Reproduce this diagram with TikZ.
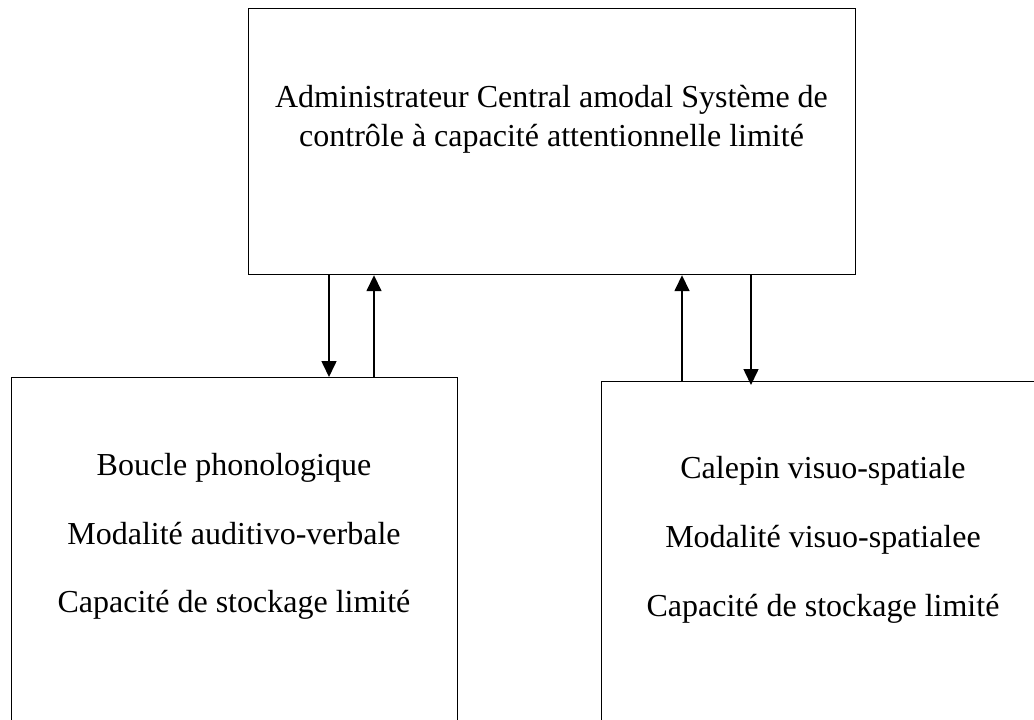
\documentclass[tikz,border=0pt]{standalone}
\usepackage{fontspec}
\setmainfont{Liberation Serif}
\usetikzlibrary{arrows.meta,calc}
\begin{document}
\begin{tikzpicture}[x=1pt,y=-1pt,
  boxst/.style={draw=black,line width=1.2pt,rectangle,inner sep=0pt,anchor=north west},
  txt/.style={anchor=base,inner sep=0pt,font=\fontsize{32}{40}\selectfont},
  arr/.style={line width=1.6pt,-{Triangle[width=15pt,length=16pt]}}]
\useasboundingbox (0,0) rectangle (1034,720);
\clip (0,0) rectangle (1034,720);
\fill[white] (0,0) rectangle (1034,720);
% boxes
\node[boxst,minimum width=607pt,minimum height=266pt] (top) at (248,8) {};
\node[boxst,minimum width=446pt,minimum height=400pt] (left) at (11,377) {};
\node[boxst,minimum width=446pt,minimum height=400pt] (right) at (601,381) {};
% texts
\node[txt] (t1) at (551.5,107) {Administrateur Central amodal Système de};
\node[txt] (t2) at (551.5,146) {contrôle à capacité attentionnelle limité};
\node[txt] (l1) at (234,475) {Boucle phonologique};
\node[txt] (l2) at (234,544) {Modalité auditivo-verbale};
\node[txt] (l3) at (234,612) {Capacité de stockage limité};
\node[txt] (r1) at (823,478) {Calepin visuo-spatiale};
\node[txt] (r2) at (823,547) {Modalité visuo-spatialee};
\node[txt] (r3) at (823,616) {Capacité de stockage limité};
% arrow positions
\coordinate (a1) at (329,0);
\coordinate (a2) at (374,0);
\coordinate (a3) at (682,0);
\coordinate (a4) at (751,0);
\draw[arr] (top.south -| a1) -- (left.north -| a1);
\draw[arr] (left.north -| a2) -- (top.south -| a2);
\draw[arr] (right.north -| a3) -- (top.south -| a3);
\draw[arr] (top.south -| a4) -- ($(right.north -| a4)+(0,4)$);
\end{tikzpicture}
\end{document}
